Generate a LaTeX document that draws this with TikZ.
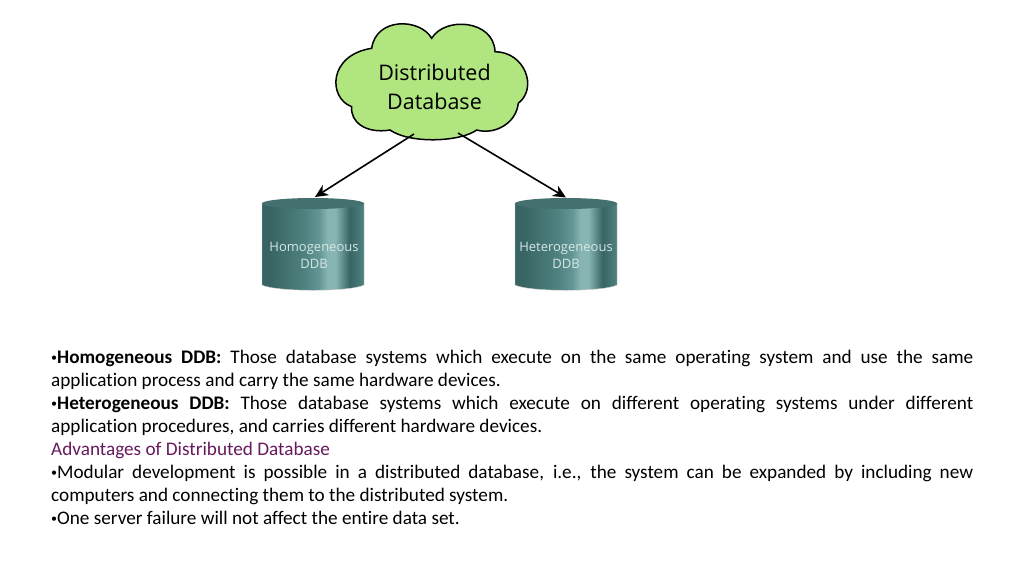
\documentclass[tikz,border=0pt]{standalone}
\usepackage{fontspec}
\setmainfont[Ligatures=NoCommon]{Carlito}
\newfontfamily\labelfont{Open Sans}
\usetikzlibrary{arrows.meta,positioning}
\definecolor{cloudgreen}{HTML}{B0E57F}
\definecolor{cyltop}{HTML}{44716F}
\definecolor{cyldark}{HTML}{386564}
\definecolor{cylmid}{HTML}{4F8280}
\definecolor{cylsoft}{HTML}{639694}
\definecolor{cyllight}{HTML}{86B5B3}
\definecolor{cyllabel}{HTML}{D5E8E6}
\definecolor{headplum}{HTML}{66195C}
\pgfdeclarehorizontalshading{cylshade}{100bp}{
  color(0bp)=(cyldark); color(29bp)=(cyldark); color(46bp)=(cylmid);
  color(53bp)=(cylsoft); color(57bp)=(cyllight); color(61bp)=(cyllight);
  color(68bp)=(cyldark); color(75bp)=(cylmid); color(100bp)=(cylmid)}
\tikzset{
  cloudline/.style={draw=black, line width=1.5pt, fill=cloudgreen},
  cloudtext/.style={font=\labelfont\fontsize{21.5}{28.5}\selectfont, align=center, inner sep=0pt},
  cyltext/.style={font=\labelfont\fontsize{13}{17}\selectfont, text=cyllabel, align=center, inner sep=0pt},
  cylbody/.style={shading=cylshade, draw=black!20, line width=0.4pt},
  linkarrow/.style={-{Stealth[length=13pt,width=12pt]}, line width=1.6pt, black},
  bodytext/.style={font=\fontsize{19.2}{23}\selectfont, text width=922pt, align=justify, inner sep=0pt, anchor=north west}
}
\newcommand{\bul}{{\fontsize{12}{12}\selectfont\raisebox{1.5pt}{•}}}
\newcommand{\cylshape}[2]{%
  \path[cylbody] (#1,203) -- (#1,285) .. controls (#1+14,292) and (#1+2*#2-14,292) .. (#1+2*#2,285)
    -- (#1+2*#2,203) -- cycle;
  \fill[cyltop] (#1+#2,203.5) ellipse[x radius=#2, y radius=5.5];
}
\begin{document}
\begin{tikzpicture}[x=1pt,y=-1pt]
\useasboundingbox (0,0) rectangle (1024,576);
% cloud
\coordinate (c1) at (431.7,38.3);
\coordinate (c2) at (495,51.7);
\coordinate (c3) at (518.3,103.3);
\coordinate (c4) at (476.7,130);
\coordinate (c5) at (390,130);
\coordinate (c6) at (351.7,106.7);
\coordinate (c7) at (371.7,48.3);
\draw[cloudline] (c7) .. controls (376,17) and (420,18) .. (c1)
  .. controls (445,16) and (494,20) .. (c2)
  .. controls (525,52) and (538,88) .. (c3)
  .. controls (516,124) and (494,135) .. (c4)
  .. controls (460,142) and (410,144) .. (c5)
  .. controls (366,134) and (350,122) .. (c6)
  .. controls (328,98) and (328,55) .. (c7) -- cycle;
\node[cloudtext] (cloud) at (434.5,87) {Distributed\\Database};
% cylinders
\cylshape{262}{51}
\cylshape{515}{51}
\node[cyltext] (homo) at (314,255) {Homogeneous\\DDB};
\node[cyltext] (hetero) at (566,255) {Heterogeneous\\DDB};
\coordinate (homotop) at (315,197);
\coordinate (heterotop) at (566,197.5);
\coordinate (cloudl) at (414,134);
\coordinate (cloudr) at (458,133);
\draw[linkarrow] (cloudl) -- (homotop);
\draw[linkarrow] (cloudr) -- (heterotop);
% text
\node[bodytext] (notes) at (51,349.5) {%
\bul\textbf{Homogeneous DDB:} Those database systems which execute on the same operating system and use the same\linebreak
application process and carry the same hardware devices.\\
\bul\textbf{Heterogeneous DDB:} Those database systems which execute on different operating systems under different\linebreak
application procedures, and carries different hardware devices.\\
\textcolor{headplum}{Advantages of Distributed Database}\\
\bul Modular development is possible in a distributed database, i.e., the system can be expanded by including new\linebreak
computers and connecting them to the distributed system.\\
\bul One server failure will not affect the entire data set.};
\end{tikzpicture}
\end{document}
